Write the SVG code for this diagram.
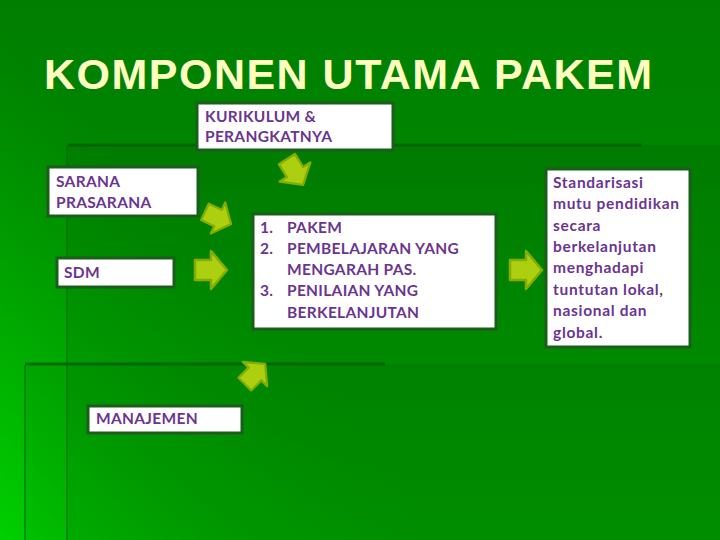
<svg xmlns="http://www.w3.org/2000/svg" width="720" height="540" viewBox="0 0 720 540">
<defs>
<linearGradient id="bg" x1="0" y1="0" x2="0" y2="540" gradientUnits="userSpaceOnUse">
<stop offset="0" stop-color="#007e00"/>
<stop offset="0.3" stop-color="#008600"/>
<stop offset="1" stop-color="#00a200"/>
</linearGradient>
<linearGradient id="lg" x1="0" y1="540" x2="260" y2="300" gradientUnits="userSpaceOnUse">
<stop offset="0" stop-color="#00d000" stop-opacity="1"/>
<stop offset="0.5" stop-color="#00b800" stop-opacity="0.5"/>
<stop offset="1" stop-color="#00a000" stop-opacity="0"/>
</linearGradient>
<path id="arr" d="M-16,-10 H0 V-19 L16,0 L0,19 V10 H-16 Z"/>
<style>
.box{fill:#ffffff;stroke:#1b5e1b;stroke-width:3}
.t{font-family:Lato,"Open Sans","Liberation Sans",sans-serif;font-weight:bold;font-size:15.5px;fill:#6a3591;letter-spacing:0.3px}
.s{letter-spacing:0.7px}
.a{fill:#acd010;stroke:#86ac00;stroke-width:2.5;stroke-linejoin:round}
.dl{stroke:#006200;stroke-width:3;fill:none;opacity:0.85}
.vl{stroke:#006e00;stroke-width:2;fill:none;opacity:0.6}
</style>
</defs>
<rect width="720" height="540" fill="url(#bg)"/>
<rect width="720" height="540" fill="url(#lg)"/>
<rect x="67" y="145" width="653" height="395" fill="#000" opacity="0.07"/>
<rect x="25" y="364" width="695" height="176" fill="#000" opacity="0.05"/>
<line class="dl" x1="68" y1="145" x2="642" y2="145"/>
<line class="vl" x1="67" y1="146" x2="67" y2="540"/>
<line class="dl" x1="25" y1="364" x2="385" y2="364"/>
<line class="vl" x1="25" y1="365" x2="25" y2="540"/>
<text x="44" y="89" font-family="'Liberation Sans',Arial,sans-serif" font-weight="bold" font-size="43" fill="#ffffc0" textLength="608" lengthAdjust="spacing">KOMPONEN UTAMA PAKEM</text>
<g id="kurikulum">
<rect class="box" x="197" y="103" width="196" height="47"/>
<text class="t" x="205" y="122">KURIKULUM &amp;</text>
<text class="t" x="205" y="142">PERANGKATNYA</text>
</g>
<g id="sarana">
<rect class="box" x="48" y="167" width="150" height="49"/>
<text class="t" x="56" y="187">SARANA</text>
<text class="t" x="56" y="208">PRASARANA</text>
</g>
<g id="sdm">
<rect class="box" x="57" y="258" width="117" height="29"/>
<text class="t" x="64" y="278">SDM</text>
</g>
<g id="manajemen">
<rect class="box" x="88" y="406" width="154" height="27"/>
<text class="t" x="96" y="424">MANAJEMEN</text>
</g>
<g id="pakem">
<rect class="box" x="253" y="214" width="243" height="115"/>
<text class="t" x="260" y="233">1.</text><text class="t" x="287" y="233">PAKEM</text>
<text class="t" x="260" y="254">2.</text><text class="t" x="287" y="254">PEMBELAJARAN YANG</text>
<text class="t" x="287" y="275">MENGARAH PAS.</text>
<text class="t" x="260" y="296">3.</text><text class="t" x="287" y="296">PENILAIAN YANG</text>
<text class="t" x="287" y="318">BERKELANJUTAN</text>
</g>
<g id="standarisasi">
<rect class="box" x="546" y="169" width="144" height="178"/>
<text class="t s" x="553" y="188">Standarisasi</text>
<text class="t s" x="553" y="209">mutu pendidikan</text>
<text class="t s" x="553" y="231">secara</text>
<text class="t s" x="553" y="252">berkelanjutan</text>
<text class="t s" x="553" y="273">menghadapi</text>
<text class="t s" x="553" y="295">tuntutan lokal,</text>
<text class="t s" x="553" y="316">nasional dan</text>
<text class="t s" x="553" y="338">global.</text>
</g>
<g id="connectors">
<use href="#arr" class="a" transform="translate(295,172) rotate(58) scale(0.95)"/>
<use href="#arr" class="a" transform="translate(218,218) rotate(25) scale(0.9)"/>
<use href="#arr" class="a" transform="translate(211,270)"/>
<use href="#arr" class="a" transform="translate(526,270)"/>
<use href="#arr" class="a" transform="translate(255,374) rotate(-45) scale(0.9)"/>
</g>
</svg>
